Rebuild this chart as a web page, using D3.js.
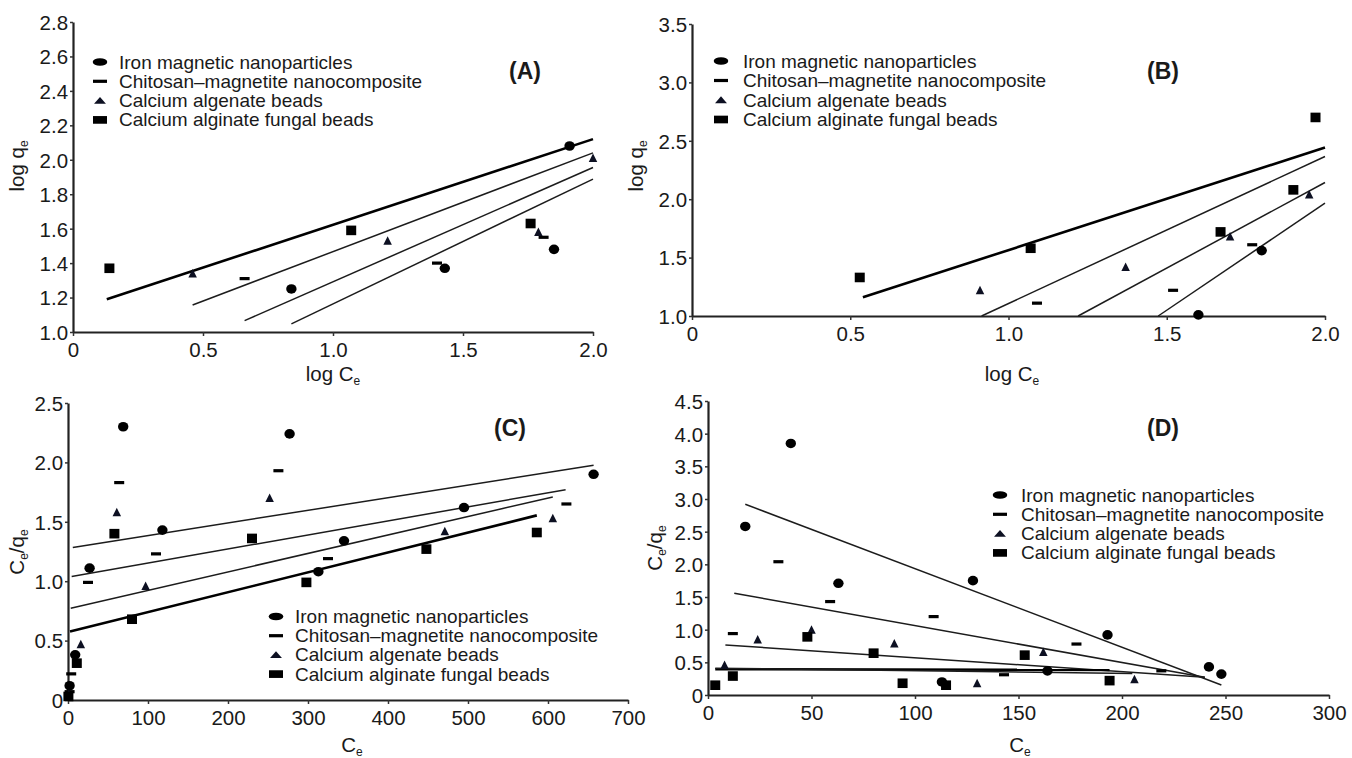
<!DOCTYPE html>
<html><head><meta charset="utf-8">
<script src="https://cdn.jsdelivr.net/npm/d3@7"></script>
<style>
html,body{margin:0;padding:0;background:#fff;}
svg text{font-family:"Liberation Sans",Arial,sans-serif;fill:#1a1a1a;}
</style></head>
<body>
<svg id="chart" width="1352" height="758"></svg>
<script>
// ---------- DATA ----------
const seriesNames = ["Iron magnetic nanoparticles","Chitosan\u2013magnetite nanocomposite","Calcium algenate beads","Calcium alginate fungal beads"];
const seriesShapes = ["circle","dash","triangle","square"];

const xTicksLog = [0,0.5,1.0,1.5,2.0];
const yTicksA = [1.0,1.2,1.4,1.6,1.8,2.0,2.2,2.4,2.6,2.8];
const yTicksB = [1.0,1.5,2.0,2.5,3.0,3.5];
const xTicksC = [0,100,200,300,400,500,600,700];
const yTicksC = [0,0.5,1.0,1.5,2.0,2.5];
const xTicksD = [0,50,100,150,200,250,300];
const yTicksD = [0,0.5,1.0,1.5,2.0,2.5,3.0,3.5,4.0,4.5];

// Panel A (Freundlich, log Ce vs log qe)
const A_iron     = [[0.84,1.25],[1.43,1.37],[1.85,1.48],[1.91,2.08]];
const A_chitosan = [[0.66,1.31],[1.40,1.40],[1.81,1.55]];
const A_algenate = [[0.46,1.34],[1.21,1.53],[1.79,1.58],[2.00,2.01]];
const A_fungal   = [[0.14,1.37],[1.07,1.59],[1.76,1.63]];
const A_fits = [[[0.13,1.19],[2.0,2.12]],[[0.46,1.157],[2.0,2.04]],[[0.66,1.066],[2.0,1.955]],[[0.84,1.047],[2.0,1.888]]];

// Panel B
const B_iron     = [[1.60,1.01],[1.80,1.56]];
const B_chitosan = [[1.09,1.11],[1.52,1.22],[1.77,1.61]];
const B_algenate = [[0.91,1.22],[1.37,1.42],[1.70,1.68],[1.95,2.04]];
const B_fungal   = [[0.53,1.33],[1.07,1.58],[1.67,1.72],[1.90,2.08],[1.97,2.70]];
const B_fits = [[[0.54,1.16],[2.0,2.443]],[[0.915,1.0],[2.0,2.366]],[[1.22,1.0],[2.0,2.143]],[[1.473,1.0],[2.0,1.966]]];

// Panel C (Langmuir, Ce vs Ce/qe)
const C_iron     = [[2,0.12],[9,0.38],[27,1.11],[69,2.30],[118,1.43],[277,2.24],[313,1.08],[345,1.34],[495,1.62],[657,1.90]];
const C_chitosan = [[2,0.07],[4,0.22],[25,0.99],[64,1.83],[110,1.23],[263,1.93],[325,1.19],[623,1.65]];
const C_algenate = [[1,0.05],[16,0.47],[61,1.58],[97,0.96],[252,1.70],[471,1.42],[606,1.53]];
const C_fungal   = [[0.5,0.03],[11,0.31],[58,1.40],[80,0.68],[230,1.36],[298,0.99],[448,1.27],[586,1.41]];
const C_fits = [[[6,1.284],[657,1.976]],[[4.6,1.04],[622,1.77]],[[3.4,0.773],[606,1.709]],[[2.5,0.576],[586,1.554]]];

// Panel D
const D_iron     = [[18,2.58],[40,3.85],[63,1.71],[113,0.20],[128,1.75],[164,0.37],[193,0.92],[242,0.43],[248,0.32]];
const D_chitosan = [[12,0.94],[34,2.04],[59,1.43],[109,1.20],[143,0.31],[178,0.78],[219,0.37]];
const D_algenate = [[8,0.46],[24,0.85],[50,1.00],[90,0.79],[130,0.18],[162,0.66],[206,0.24]];
const D_fungal   = [[3.5,0.15],[12,0.29],[48,0.89],[80,0.64],[94,0.18],[115,0.15],[153,0.61],[194,0.22]];
const D_fits = [[[18,2.92],[248,0.153]],[[12.7,1.557],[240,0.27]],[[8.4,0.766],[240,0.27]],[[3.5,0.395],[194,0.385]],[[3.5,0.41],[205,0.33]]];

// ---------- LAYOUT ----------
const panels = [
  {tag:"(A)", xd:[0,2], xr:[73,593], yd:[1.0,2.8], yr:[332,22], xt:xTicksLog, yt:yTicksA,
   series:[A_iron,A_chitosan,A_algenate,A_fungal], fits:A_fits, thick:[0],
   xlab:"log", ylab:"logq", xlabPos:[333,381], ylabPos:[24,166], tagPos:[525,79],
   leg:{mx:100, tx:119, y0:62, dy:19.3}},
  {tag:"(B)", xd:[0,2], xr:[692,1325], yd:[1.0,3.5], yr:[316,24], xt:xTicksLog, yt:yTicksB,
   series:[B_iron,B_chitosan,B_algenate,B_fungal], fits:B_fits, thick:[0],
   xlab:"log", ylab:"logq", xlabPos:[1012,381], ylabPos:[643,166], tagPos:[1163,79],
   leg:{mx:721, tx:743, y0:61, dy:19.5}},
  {tag:"(C)", xd:[0,700], xr:[68,628], yd:[0,2.5], yr:[700,403], xt:xTicksC, yt:yTicksC,
   series:[C_iron,C_chitosan,C_algenate,C_fungal], fits:C_fits, thick:[3],
   xlab:"C", ylab:"ratio", xlabPos:[352,752], ylabPos:[24,552], tagPos:[510,436],
   leg:{mx:276, tx:295, y0:616.5, dy:19.2}},
  {tag:"(D)", xd:[0,300], xr:[708,1329], yd:[0,4.5], yr:[695,401], xt:xTicksD, yt:yTicksD,
   series:[D_iron,D_chitosan,D_algenate,D_fungal], fits:D_fits, thick:[3],
   xlab:"C", ylab:"ratio", xlabPos:[1020,752], ylabPos:[662,548], tagPos:[1163,436],
   leg:{mx:1000, tx:1021, y0:495, dy:19.3}}
];

const svg = d3.select("#chart");
const FS = 19;      // legend
const TFS = 20.5;   // tick labels
const AFS = 20.5;   // axis titles

function drawMarker(g, shape, x, y, sx, sy) {
  sx = sx || 1; sy = sy || sx;
  if (shape === "circle") {
    g.append("ellipse").attr("cx",x).attr("cy",y).attr("rx",5.2*sx).attr("ry",4.8*sy).attr("fill","#000");
  } else if (shape === "square") {
    g.append("rect").attr("x",x-5*sx).attr("y",y-4.8*sy).attr("width",10*sx).attr("height",9.6*sy).attr("fill","#000");
  } else if (shape === "triangle") {
    const h = 8*sy, w = 8.5*sx;
    g.append("path").attr("d",`M${x},${y-h/2-0.5}L${x+w/2},${y+h/2}L${x-w/2},${y+h/2}Z`).attr("fill","#0d1022");
  } else if (shape === "dash") {
    g.append("rect").attr("x",x-5*sx).attr("y",y-1.6).attr("width",10*sx).attr("height",3.2).attr("fill","#000");
  }
}

function fmtTick(d){ return d===0 ? "0" : (Number.isInteger(d) && Math.abs(d)>=10 ? String(d) : d3.format(".1f")(d)); }

panels.forEach(p => {
  const x = d3.scaleLinear().domain(p.xd).range(p.xr);
  const y = d3.scaleLinear().domain(p.yd).range(p.yr);
  const g = svg.append("g");

  // axes
  const xa = d3.axisBottom(x).tickValues(p.xt).tickSize(4).tickSizeOuter(0).tickFormat(fmtTick);
  const ya = d3.axisLeft(y).tickValues(p.yt).tickSize(3).tickSizeOuter(0).tickFormat(fmtTick);
  const gx = g.append("g").attr("transform",`translate(0,${p.yr[0]})`).call(xa);
  const gy = g.append("g").attr("transform",`translate(${p.xr[0]},0)`).call(ya);
  [gx,gy].forEach(a=>{
    a.select(".domain").attr("stroke","#222").attr("stroke-width",2.2);
    a.selectAll(".tick line").attr("stroke","#333").attr("stroke-width",1.5);
    a.selectAll(".tick text").attr("font-size",TFS).attr("fill","#1a1a1a")
      .style("font-family","'Liberation Sans',Arial,sans-serif");
  });
  gx.selectAll(".tick text").attr("dy","0.9em");
  gy.selectAll(".tick text").attr("dx","0.05em").attr("dy","0.36em");

  // fit lines
  p.fits.forEach((seg,i) => {
    const th = p.thick.includes(i);
    g.append("line")
      .attr("x1",x(seg[0][0])).attr("y1",y(seg[0][1]))
      .attr("x2",x(seg[1][0])).attr("y2",y(seg[1][1]))
      .attr("stroke", th ? "#000" : "#1c1c1c")
      .attr("stroke-width", th ? 2.6 : 1.5);
  });

  // points
  p.series.forEach((pts,si) => {
    pts.forEach(d => drawMarker(g, seriesShapes[si], x(d[0]), y(d[1])));
  });

  // legend
  seriesNames.forEach((n,i) => {
    const cy = p.leg.y0 + i*p.leg.dy;
    drawMarker(g, seriesShapes[i], p.leg.mx, cy, 1.4, 0.8);
    g.append("text").attr("x",p.leg.tx).attr("y",cy+6.5).attr("font-size",FS).text(n);
  });

  // panel tag
  g.append("text").attr("x",p.tagPos[0]).attr("y",p.tagPos[1]).attr("text-anchor","middle")
    .attr("font-size",23).attr("font-weight","bold").text(p.tag);

  // x label
  const xl = g.append("text").attr("x",p.xlabPos[0]).attr("y",p.xlabPos[1]).attr("text-anchor","middle").attr("font-size",AFS);
  if (p.xlab === "log") { xl.append("tspan").text("log C"); }
  else { xl.append("tspan").text("C"); }
  xl.append("tspan").attr("font-size",12).attr("dy",4).text("e");

  // y label
  const yl = g.append("text").attr("transform",`translate(${p.ylabPos[0]},${p.ylabPos[1]}) rotate(-90)`)
    .attr("text-anchor","middle").attr("font-size",AFS);
  if (p.ylab === "logq") {
    yl.append("tspan").text("log q");
    yl.append("tspan").attr("font-size",12).attr("dy",4).text("e");
  } else {
    yl.append("tspan").text("C");
    yl.append("tspan").attr("font-size",12).attr("dy",4).text("e");
    yl.append("tspan").attr("dy",-4).text("/q");
    yl.append("tspan").attr("font-size",12).attr("dy",4).text("e");
  }
});
</script>
</body></html>
